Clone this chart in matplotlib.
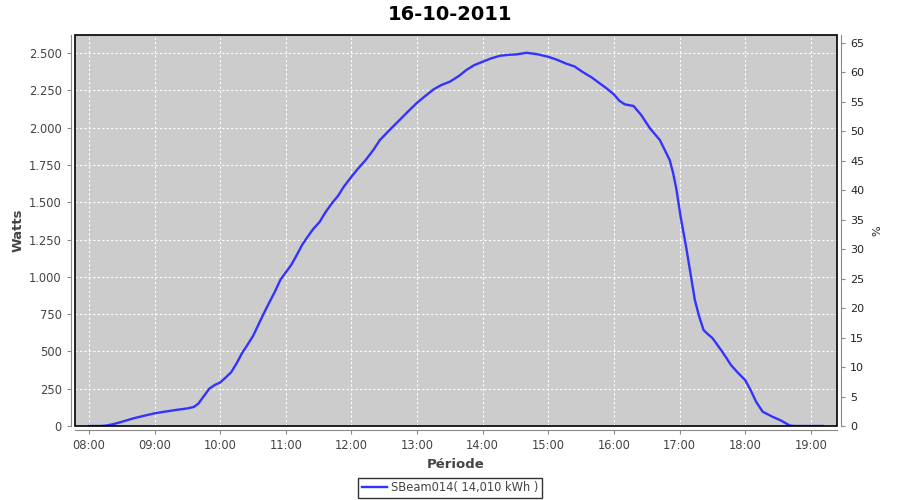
import matplotlib.pyplot as plt
from matplotlib.patches import Rectangle
from matplotlib.ticker import FuncFormatter, MultipleLocator

title = '16-10-2011'
series_name = 'SBeam014( 14,010 kWh )'

times = ['08:00', '08:10', '08:15', '08:22', '08:30', '08:40', '08:50', '09:00',
         '09:10', '09:20', '09:30', '09:36', '09:40', '09:45', '09:50', '09:55',
         '10:00', '10:05', '10:10', '10:15', '10:20', '10:25', '10:30', '10:35',
         '10:40', '10:45', '10:50', '10:55', '11:00', '11:05', '11:10', '11:15',
         '11:20', '11:25', '11:31', '11:36', '11:42', '11:48', '11:53', '12:00',
         '12:06', '12:13', '12:20', '12:26', '12:35', '12:44', '12:52', '13:00',
         '13:08', '13:15', '13:22', '13:30', '13:38', '13:45', '13:52', '14:00',
         '14:08', '14:16', '14:24', '14:31', '14:40', '14:50', '15:00', '15:08',
         '15:16', '15:24', '15:31', '15:40', '15:47', '15:53', '16:00', '16:05',
         '16:10', '16:18', '16:25', '16:33', '16:42', '16:48', '16:51', '16:54',
         '16:57', '17:01', '17:06', '17:08', '17:11', '17:14', '17:18', '17:22',
         '17:26', '17:30', '17:34', '17:38', '17:43', '17:47', '17:53', '18:00',
         '18:05', '18:10', '18:16', '18:25', '18:33', '18:38', '18:41', '18:45',
         '19:11']
watts = [0, 0, 2, 12, 28, 50, 68, 85,
         97, 108, 118, 128, 150, 200, 250, 275,
         292, 325, 360, 420, 489, 545, 603, 680,
         757, 830, 900, 980, 1030, 1080, 1146, 1215,
         1269, 1320, 1369, 1430, 1492, 1545, 1604, 1671,
         1725, 1783, 1850, 1917, 1985, 2051, 2110, 2167,
         2215, 2256, 2285, 2308, 2345, 2386, 2418, 2442,
         2465, 2482, 2488, 2491, 2502, 2492, 2475, 2455,
         2430, 2410, 2375, 2335, 2297, 2265, 2223, 2180,
         2156, 2145, 2084, 1995, 1917, 1828, 1783, 1700,
         1593, 1403, 1202, 1113, 979, 845, 733, 643,
         615, 590, 550, 509, 455, 409, 360, 308,
         241, 163, 96, 62, 36, 15, 3, 0,
         0]

hours = [int(t[:2]) + int(t[3:]) / 60 for t in times]
tick_hours = list(range(8, 20))

grey = '#444444'
fig = plt.figure(figsize=(9, 5), dpi=100)
ax = fig.add_axes([75 / 900, 74 / 500, 762 / 900, 391 / 500])
ax.set_facecolor('#cccccc')

line, = ax.plot(hours, watts, color='#3333ff', lw=1.7, label=series_name)

ax.set_xlim(7.787, 19.4)
ax.set_ylim(0, 2621)
ax.set_xticks(tick_hours)
ax.xaxis.set_major_formatter(FuncFormatter(lambda v, p: '%02d:00' % round(v)))
ax.yaxis.set_major_locator(MultipleLocator(250))
ax.yaxis.set_major_formatter(FuncFormatter(lambda v, p: '{:,.0f}'.format(v).replace(',', '.')))
ax.grid(True, color='white', linestyle=(0, (2, 2)), linewidth=0.8)

for s in ['top', 'right']:
    ax.spines[s].set_visible(False)
for s in ['left', 'bottom']:
    ax.spines[s].set_position(('outward', 3))
    ax.spines[s].set_color('#888888')
ax.tick_params(colors='#888888', labelcolor=grey, labelsize=8.3, length=3)
ax.add_patch(Rectangle((0, 0), 1, 1, transform=ax.transAxes, fill=False,
                       edgecolor='black', lw=1.2, zorder=5, clip_on=False))

ax2 = ax.twinx()
ax2.set_ylim(0, 66.3)
ax2.yaxis.set_major_locator(MultipleLocator(5))
for s in ['top', 'left', 'bottom']:
    ax2.spines[s].set_visible(False)
ax2.spines['right'].set_position(('outward', 3))
ax2.spines['right'].set_color('#888888')
ax2.tick_params(colors='#888888', labelcolor='#222222', labelsize=8, length=3)

ax.set_xlabel('Période', fontsize=9.5, fontweight='bold', color=grey, labelpad=4)
ax.set_ylabel('Watts', fontsize=9.5, fontweight='bold', color=grey, labelpad=3)
ax2.set_ylabel('%', fontsize=8, color='#222222', labelpad=6)

fig.suptitle(title, x=0.5, y=0.972, va='center', fontsize=14, fontweight='bold')

leg = fig.legend(handles=[line], loc='center', bbox_to_anchor=(450 / 900, 1 - 488 / 500),
                 fontsize=8.3, frameon=True, fancybox=False, handlelength=2.2,
                 borderpad=0.3, handletextpad=0.3)
leg.get_frame().set_edgecolor('black')
leg.get_frame().set_linewidth(1.0)
for t in leg.get_texts():
    t.set_color(grey)

fig.savefig('out.png', dpi=100)
